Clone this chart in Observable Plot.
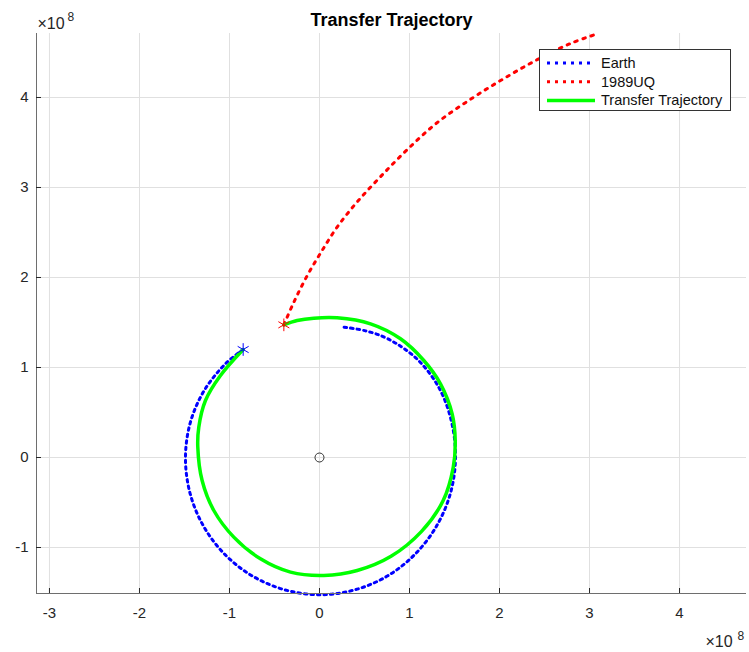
<!DOCTYPE html>
<html>
<head>
<meta charset="utf-8">
<script src="https://cdn.jsdelivr.net/npm/d3@7"></script>
<script src="https://cdn.jsdelivr.net/npm/@observablehq/plot@0.6"></script>
<style>
  body { margin: 0; background: white; }
  #wrap { position: relative; width: 749px; height: 652px; font-family: "Liberation Sans", Arial, Helvetica, sans-serif; }
  #legend { position: absolute; left: 539px; top: 49px; width: 190px; height: 60px; border: 1px solid #333; background: white; }
</style>
</head>
<body>
<div id="wrap"></div>
<script>
// axis limits and ticks (units of 1e8 km)
const xLimits = [-3.144, 4.744];
const yLimits = [-1.511, 4.711];
const xTicks = [-3, -2, -1, 0, 1, 2, 3, 4];
const yTicks = [-1, 0, 1, 2, 3, 4];

// Earth orbit (dotted blue)
const earthX = [-0.848, -1.043, -1.283, -1.436, -1.489, -1.441, -1.296, -1.064, -0.757, -0.393, 0.0, 0.394, 0.759, 1.068, 1.305, 1.457, 1.511, 1.468, 1.331, 1.089, 0.761, 0.512, 0.27];
const earthY = [1.2, 1.043, 0.741, 0.385, 0.0, -0.386, -0.749, -1.064, -1.310, -1.468, -1.525, -1.470, -1.314, -1.068, -0.754, -0.390, 0.0, 0.393, 0.769, 1.089, 1.318, 1.407, 1.448];

// 1989UQ path (dotted red)
const uqX = [-0.396, -0.285, -0.137, 0.011, 0.196, 0.419, 0.678, 0.974, 1.307, 1.678, 2.048, 2.419, 2.789, 3.085];
const uqY = [1.474, 1.726, 2.02, 2.27, 2.56, 2.84, 3.12, 3.42, 3.72, 3.98, 4.21, 4.42, 4.60, 4.707];

// Transfer trajectory (solid green)
const trX = [-0.848, -1.1, -1.267, -1.341, -1.352, -1.304, -1.174, -0.952, -0.656, -0.322, 0.048, 0.419, 0.795, 1.134, 1.373, 1.486, 1.508, 1.474, 1.344, 1.159, 0.9, 0.567, 0.196, -0.063, -0.248, -0.396];
const trY = [1.2, 0.911, 0.633, 0.337, 0.115, -0.256, -0.589, -0.885, -1.126, -1.274, -1.311, -1.256, -1.098, -0.821, -0.481, -0.109, 0.188, 0.485, 0.819, 1.078, 1.319, 1.485, 1.552, 1.548, 1.522, 1.474];

// special points
const sunPt = [{x: 0, y: 0}];
const departPt = [{x: -0.848, y: 1.2}];
const arrivePt = [{x: -0.396, y: 1.474}];

const seriesNames = ["Earth", "1989UQ", "Transfer Trajectory"];
const seriesColors = ["#0000ff", "#ff0000", "#00ff00"];
const titleText = "Transfer Trajectory";

const toRows = (xs, ys) => xs.map((x, i) => ({x, y: ys[i]}));
const earth = toRows(earthX, earthY);
const uq = toRows(uqX, uqY);
const tr = toRows(trX, trY);

const font = "'Liberation Sans', Arial, Helvetica, sans-serif";

const chart = Plot.plot({
  width: 749,
  height: 652,
  marginLeft: 36,
  marginRight: 3,
  marginTop: 33,
  marginBottom: 59,
  x: {domain: xLimits},
  y: {domain: yLimits},
  style: {fontFamily: font, fontSize: "15px", color: "#262626", background: "white", overflow: "visible"},
  marks: [
    Plot.gridX(xTicks, {stroke: "#e0e0e0", strokeOpacity: 1}),
    Plot.gridY(yTicks, {stroke: "#e0e0e0", strokeOpacity: 1}),
    Plot.line(earth, {x: "x", y: "y", curve: "catmull-rom", stroke: seriesColors[0], strokeWidth: 3, strokeDasharray: "2.5,4"}),
    Plot.line(uq, {x: "x", y: "y", curve: "catmull-rom", stroke: seriesColors[1], strokeWidth: 3, strokeDasharray: "2.5,6"}),
    Plot.line(tr, {x: "x", y: "y", curve: "catmull-rom", stroke: seriesColors[2], strokeWidth: 3.5}),
    Plot.dot(sunPt, {x: "x", y: "y", r: 4.5, stroke: "#333", strokeWidth: 1, fill: "none"}),
    Plot.dot(departPt, {x: "x", y: "y", r: 6, symbol: "asterisk", stroke: seriesColors[0], strokeWidth: 1}),
    Plot.dot(arrivePt, {x: "x", y: "y", r: 6, symbol: "asterisk", stroke: seriesColors[1], strokeWidth: 1}),
    Plot.ruleY([yLimits[0]], {stroke: "#6e6e6e", strokeWidth: 1}),
    Plot.ruleX([xLimits[0]], {stroke: "#6e6e6e", strokeWidth: 1}),
    Plot.axisX(xTicks, {anchor: "bottom", tickSize: -5, tickPadding: 19, label: null, tickFormat: d => String(d), stroke: "#262626", fontSize: 15}),
    Plot.axisY(yTicks, {anchor: "left", tickSize: -5, tickPadding: 13, label: null, tickFormat: d => String(d), stroke: "#262626", fontSize: 15}),
    Plot.text([titleText], {frameAnchor: "top", text: d => d, dy: -13, lineAnchor: "middle", fontWeight: "bold", fontSize: 18, fill: "black"}),
    Plot.text(["×10"], {frameAnchor: "top-left", text: d => d, textAnchor: "start", lineAnchor: "bottom", dx: 1, dy: -4.7, fontSize: 16, fill: "#262626"}),
    Plot.text(["8"], {frameAnchor: "top-left", text: d => d, textAnchor: "start", lineAnchor: "bottom", dx: 31, dy: -12.5, fontSize: 12, fill: "#262626"}),
    Plot.text(["×10"], {frameAnchor: "bottom-right", text: d => d, textAnchor: "start", lineAnchor: "bottom", dx: -41, dy: 53.7, fontSize: 16, fill: "#262626"}),
    Plot.text(["8"], {frameAnchor: "bottom-right", text: d => d, textAnchor: "start", lineAnchor: "bottom", dx: -9, dy: 46, fontSize: 12, fill: "#262626"})
  ]
});

const wrap = document.getElementById("wrap");
wrap.appendChild(chart);

// legend
const legend = document.createElement("div");
legend.id = "legend";
const ns = "http://www.w3.org/2000/svg";
const lsvg = document.createElementNS(ns, "svg");
lsvg.setAttribute("width", 190);
lsvg.setAttribute("height", 60);
const dashes = ["3,5", "3,5", null];
const widths = [3, 3, 3.5];
seriesNames.forEach((name, i) => {
  const cy = 13 + i * 18.7;
  const ln = document.createElementNS(ns, "line");
  ln.setAttribute("x1", 7); ln.setAttribute("x2", 55);
  ln.setAttribute("y1", cy); ln.setAttribute("y2", cy);
  ln.setAttribute("stroke", seriesColors[i]);
  ln.setAttribute("stroke-width", widths[i]);
  if (dashes[i]) ln.setAttribute("stroke-dasharray", dashes[i]);
  lsvg.appendChild(ln);
  const t = document.createElementNS(ns, "text");
  t.setAttribute("x", 61); t.setAttribute("y", cy);
  t.setAttribute("dy", "0.35em");
  t.setAttribute("font-family", font);
  t.setAttribute("font-size", "14.5px");
  t.setAttribute("fill", "#111");
  t.textContent = name;
  lsvg.appendChild(t);
});
legend.appendChild(lsvg);
wrap.appendChild(legend);
</script>
</body>
</html>
